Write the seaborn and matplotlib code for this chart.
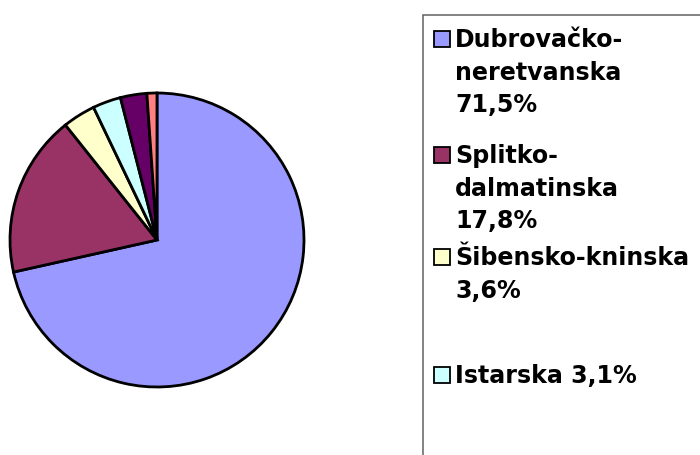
import matplotlib
matplotlib.use("Agg")
import matplotlib.pyplot as plt
from matplotlib.patches import Rectangle
import seaborn as sns

# county shares (%), clockwise from 12 o'clock
counties = ["Dubrovačko-\nneretvanska", "Splitko-\ndalmatinska", "Šibensko-kninska",
            "Istarska", "Zadarska", "Ostale"]
shares = [71.5, 17.8, 3.6, 3.1, 2.9, 1.1]
pct_on_new_line = [True, True, True, False, False, False]
colors = ["#9999FF", "#993366", "#FFFFCC", "#CCFFFF", "#660066", "#FF8080"]

W, H = 700, 455
sns.set_theme(style="white")
plt.rcParams["font.family"] = ["DejaVu Sans"]

fig = plt.figure(figsize=(W / 100, H / 100), dpi=100)
fig.patch.set_facecolor("white")

# pie: centre (157, 240) px, radius 148 px
cx, cy, r = 157, 240, 147
ax = fig.add_axes([(cx - r) / W, (H - cy - r) / H, 2 * r / W, 2 * r / H])
ax.pie(shares, colors=colors, startangle=90, counterclock=False,
       wedgeprops=dict(edgecolor="black", linewidth=2.0))
ax.set_xlim(-1.0, 1.0)
ax.set_ylim(-1.0, 1.0)
ax.set_aspect("equal")
ax.axis("off")

# legend frame, runs off the right and bottom of the canvas
box_left, box_top = 422.5, 15
fig.add_artist(Rectangle((box_left / W, -0.1), 1.0, (H - box_top) / H + 0.1,
                         transform=fig.transFigure, fill=False,
                         edgecolor="#606060", linewidth=1.1))

# legend entries laid out by hand (baseline of first line, px from top);
# the last two entries fall below the canvas, as in the original
entry_baselines = [47, 163, 265, 383, 480, 560]
line_step = 32.5
for name, val, newline, col, base in zip(counties, shares, pct_on_new_line, colors, entry_baselines):
    if base > H:
        continue
    pct = f"{val:.1f}".replace(".", ",") + "%"
    label = name + ("\n" if newline else " ") + pct
    fig.add_artist(Rectangle((434 / W, 1 - base / H), 16 / W, 16 / H,
                             transform=fig.transFigure, facecolor=col,
                             edgecolor="black", linewidth=1.3))
    for i, line in enumerate(label.split("\n")):
        fig.text(455 / W, 1 - (base + i * line_step) / H, line,
                 fontsize=17.1, fontweight="bold", color="black",
                 ha="left", va="baseline")

fig.savefig("out.png", dpi=100, facecolor="white")
